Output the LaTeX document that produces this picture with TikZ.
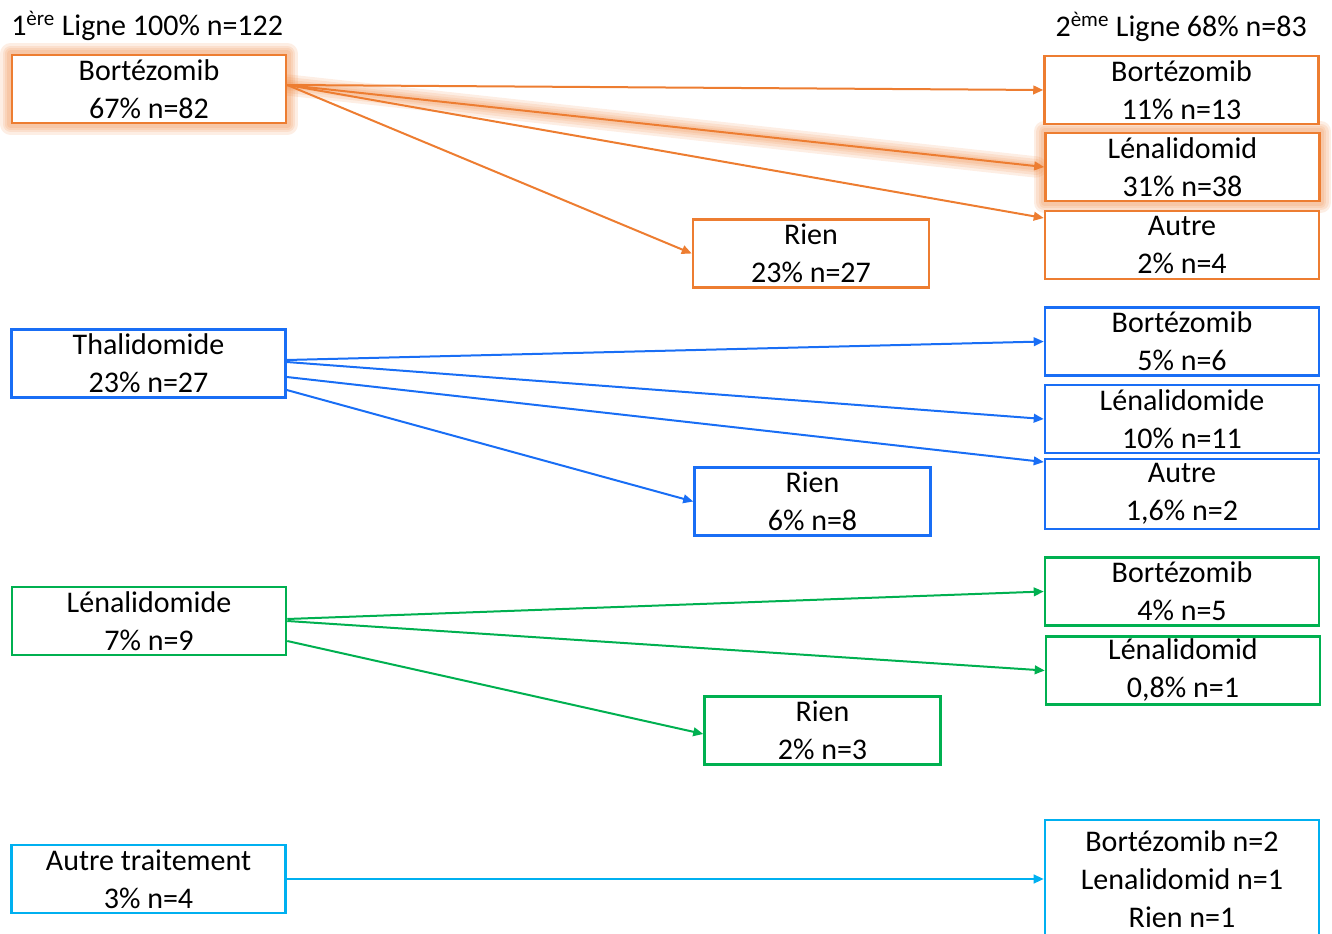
\documentclass[tikz,border=0pt]{standalone}
\usepackage{fontspec}
\setmainfont{Carlito}
\usetikzlibrary{arrows.meta,calc,backgrounds}
\definecolor{cOr}{HTML}{ED7D31}
\definecolor{cBl}{RGB}{25,110,245}
\definecolor{cGr}{HTML}{00B050}
\definecolor{cCy}{HTML}{00B0F0}
\begin{document}
\begin{tikzpicture}[x=0.75pt,y=-0.75pt,
  every node/.style={font=\fontsize{22.5pt}{28.5pt}\selectfont, text=black},
  box/.style={draw, line width=1.9pt, fill=white, inner sep=0pt, align=center,
              minimum width=205.5pt, minimum height=51pt},
  rbox/.style={box, minimum width=177pt},
  conn/.style={line width=1.5pt, -{Triangle[length=7.5pt,width=6.5pt]}},
  glowline/.style={cOr, line width=#1, opacity=0.13, line cap=round, line join=round}]
\useasboundingbox (0,0) rectangle (1332,934);

% titles
\node[anchor=base west, inner sep=0pt] (t1) at (11,36) {1\textsuperscript{ère} Ligne 100\% n=122};
\node[anchor=base east, inner sep=0pt] (t2) at (1307,37) {2\textsuperscript{ème} Ligne 68\% n=83};

% Bortezomib group
\node[box, draw=cOr] (B1) at (149,89) {Bortézomib\\67\% n=82};
\node[box, draw=cOr] (R1) at (1181.5,90) {Bortézomib\\11\% n=13};
\node[box, draw=cOr] (R2) at (1182.5,167) {Lénalidomid\\31\% n=38};
\node[box, draw=cOr] (R3) at (1182,245) {Autre\\2\% n=4};
\node[rbox, draw=cOr] (N1) at (811,253.5) {Rien\\23\% n=27};

% Thalidomide group
\node[box, draw=cBl] (T1) at (148.5,363.5) {Thalidomide\\23\% n=27};
\node[box, draw=cBl] (R4) at (1182,341.5) {Bortézomib\\5\% n=6};
\node[box, draw=cBl] (R5) at (1182,419) {Lénalidomide\\10\% n=11};
\node[box, draw=cBl, minimum height=52.5pt] (R6) at (1182,494) {Autre\\1,6\% n=2};
\node[rbox, draw=cBl] (N2) at (812.5,501.5) {Rien\\6\% n=8};

% Lenalidomide group
\node[box, draw=cGr] (L1) at (149,621) {Lénalidomide\\7\% n=9};
\node[box, draw=cGr] (R7) at (1182,591.5) {Bortézomib\\4\% n=5};
\node[box, draw=cGr] (R8) at (1183,670.5) {Lénalidomid\\0,8\% n=1};
\node[rbox, draw=cGr] (N3) at (822.5,730.5) {Rien\\2\% n=3};

% Autre traitement group
\node[box, draw=cCy] (A1) at (148.5,879) {Autre traitement\\3\% n=4};
\node[box, draw=cCy, minimum height=88.5pt] (R9) at (1182,879) {Bortézomib n=2\\Lenalidomid n=1\\Rien n=1};

% glow
\begin{scope}[on background layer]
  \foreach \w in {16pt,12pt,8pt,5pt}{
    \draw[glowline=\w] (B1.south west) rectangle (B1.north east);
    \draw[glowline=\w] (R2.south west) rectangle (R2.north east);
    \draw[glowline=\w] ($(B1.east)+(0,-4)$) -- ($(R2.west)+(-8,0)$);
  }
\end{scope}

% orange connectors
\draw[conn, cOr] ($(B1.east)+(0,-4)$) -- (R1.west);
\draw[conn, cOr] ($(B1.east)+(0,-4)$) -- (R2.west);
\draw[conn, cOr] ($(B1.east)+(0,-4)$) -- ($(R3.west)+(0,-27)$);
\draw[conn, cOr] ($(B1.east)+(0,-4)$) -- (N1.west);

% blue connectors
\draw[conn, cBl] ($(T1.east)+(0,-3.5)$) -- (R4.west);
\draw[conn, cBl] ($(T1.east)+(0,-1.5)$) -- (R5.west);
\draw[conn, cBl] ($(T1.east)+(0,13.5)$) -- ($(R6.west)+(0,-32)$);
\draw[conn, cBl] ($(T1.east)+(0,26.5)$) -- (N2.west);

% green connectors
\draw[conn, cGr] ($(L1.east)+(0,-2)$) -- (R7.west);
\draw[conn, cGr] (L1.east) -- (R8.west);
\draw[conn, cGr] ($(L1.east)+(0,20)$) -- ($(N3.west)+(0,3.5)$);

% cyan connector
\draw[conn, cCy] (A1.east) -- (R9.west);
\end{tikzpicture}
\end{document}
